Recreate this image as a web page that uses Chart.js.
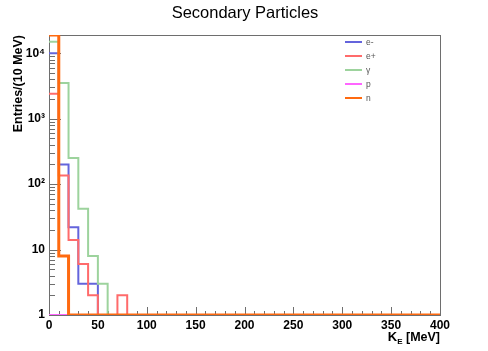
<!DOCTYPE html>
<html>
<head>
<meta charset="utf-8">
<script src="https://cdn.jsdelivr.net/npm/chart.js@4.4.0/dist/chart.umd.min.js"></script>
<style>
  html, body { margin:0; padding:0; background:#fff; }
  canvas { display:block; }
</style>
</head>
<body>
<canvas id="c" width="488" height="351"></canvas>
<script>
// ─── DATA ─────────────────────────────────────────────────────────────────────
// low edge of each 10 MeV bin that has entries; every later bin up to 400 MeV is empty
const binLows   = [0, 10, 20, 30, 40, 50, 60, 70, 80];
const xMax      = 400;
const countsEm  = [10000, 200, 22, 3, 3, 0, 0, 0, 0];   // e-
const countsEp  = [2400, 135, 14, 6, 2, 0, 0, 2, 0];    // e+
const countsGam = [15000, 3500, 250, 42, 8, 3, 0, 0, 0]; // gamma
const countsP   = [0, 0, 0, 0, 0, 0, 0, 0, 0];          // p
const countsN   = [19000, 8, 0, 0, 0, 0, 0, 0, 0];      // n
const seriesNames = ['e-', 'e+', 'γ', 'p', 'n'];
const xTicks    = [0, 50, 100, 150, 200, 250, 300, 350, 400];
const yTicks    = [1, 10, 100, 1000, 10000];
const yTickText = ['1', '10', '10²', '10³', '10⁴'];
const yMin = 1, yMax = 19000;

const COLORS = ['#6464dc', '#ff6b6b', '#9dd39d', '#ff66ff', '#ff6a10'];
const WIDTHS = [2, 2, 2, 2, 3];
const FONT = '"Liberation Sans", Arial, Helvetica, sans-serif';

// histogram as step line: point at bin low edge, drawn flat until next edge; empty bins sit on the floor
const toSteps = counts => {
  const pts = binLows.map((x, i) => ({ x, y: Math.max(counts[i], yMin) }));
  pts.push({ x: xMax, y: yMin });
  return pts;
};
const allCounts = [countsEm, countsEp, countsGam, countsP, countsN];

// ─── ROOT-like frame, inward ticks, titles, legend ────────────────────────────
const rootDeco = {
  id: 'rootDeco',
  beforeDatasetsDraw(chart) {
    const { ctx, chartArea: a, scales: { x, y } } = chart;
    ctx.save();
    ctx.strokeStyle = '#6e6e6e';
    ctx.lineWidth = 1;
    ctx.strokeRect(Math.round(a.left) + 0.5, Math.round(a.top) + 0.5,
                   Math.round(a.right - a.left), Math.round(a.bottom - a.top));
    ctx.beginPath();
    for (let v = 0; v <= xMax; v += 10) {
      const px = Math.round(x.getPixelForValue(v)) + 0.5;
      const len = v % 50 === 0 ? 8 : 4;
      ctx.moveTo(px, a.bottom); ctx.lineTo(px, a.bottom - len);
    }
    for (let d = 1; d <= 10000; d *= 10) {
      for (let m = 1; m <= 9; m++) {
        const v = d * m;
        if (v > yMax) break;
        const py = Math.round(y.getPixelForValue(v)) + 0.5;
        const len = m === 1 ? 12 : 6;
        ctx.moveTo(a.left, py); ctx.lineTo(a.left + len, py);
      }
    }
    ctx.stroke();
    ctx.restore();
  },
  afterDraw(chart) {
    const { ctx, chartArea: a } = chart;
    ctx.save();
    // title
    ctx.fillStyle = '#000';
    ctx.font = `16.5px ${FONT}`;
    ctx.textAlign = 'center'; ctx.textBaseline = 'alphabetic';
    ctx.fillText('Secondary Particles', 245, 17.5);
    // x title  K_E [MeV]
    ctx.font = `bold 12.5px ${FONT}`;
    ctx.textAlign = 'right';
    const rest = ' [MeV]';
    const wRest = ctx.measureText(rest).width;
    ctx.fillText(rest, a.right, 341);
    ctx.font = `bold 8px ${FONT}`;
    const wSub = ctx.measureText('E').width;
    ctx.fillText('E', a.right - wRest, 344);
    ctx.font = `bold 13px ${FONT}`;
    ctx.fillText('K', a.right - wRest - wSub, 341);
    // y title
    ctx.font = `bold 12.5px ${FONT}`;
    ctx.translate(22, a.top);
    ctx.rotate(-Math.PI / 2);
    ctx.textAlign = 'right';
    ctx.fillText('Entries/(10 MeV)', 0, 0);
    ctx.restore();
    // legend
    ctx.save();
    ctx.font = `8.5px ${FONT}`;
    ctx.textBaseline = 'middle'; ctx.textAlign = 'left';
    seriesNames.forEach((name, i) => {
      const ly = 42 + i * 14;
      ctx.strokeStyle = COLORS[i]; ctx.lineWidth = 2;
      ctx.beginPath(); ctx.moveTo(345, ly); ctx.lineTo(362, ly); ctx.stroke();
      ctx.fillStyle = '#555';
      ctx.fillText(name, 366, ly + 0.5);
    });
    ctx.restore();
  }
};

new Chart(document.getElementById('c'), {
  type: 'line',
  data: {
    datasets: seriesNames.map((name, i) => ({
      label: name,
      data: toSteps(allCounts[i]),
      stepped: 'before',
      borderColor: COLORS[i],
      borderWidth: WIDTHS[i],
      pointRadius: 0,
      fill: false,
      order: seriesNames.length - 1 - i
    }))
  },
  options: {
    responsive: false,
    animation: false,
    devicePixelRatio: 1,
    layout: { padding: { top: 35, right: 48, left: 0, bottom: 0 } },
    plugins: { legend: { display: false }, tooltip: { enabled: false }, title: { display: false } },
    scales: {
      x: {
        type: 'linear', min: 0, max: xMax,
        afterBuildTicks: s => { s.ticks = xTicks.map(v => ({ value: v })); },
        afterFit: s => { s.height = 36; },
        grid: { display: false, drawTicks: false },
        border: { display: false },
        ticks: { padding: 3, color: '#000', maxRotation: 0, autoSkip: false,
                 font: { family: FONT, size: 12, weight: 'bold' } }
      },
      y: {
        type: 'logarithmic', min: yMin, max: yMax,
        afterBuildTicks: s => { s.ticks = yTicks.map(v => ({ value: v })); },
        afterFit: s => { s.width = 49; },
        grid: { display: false, drawTicks: false },
        border: { display: false },
        ticks: { padding: 4, color: '#000', autoSkip: false,
                 callback: v => yTickText[yTicks.indexOf(v)] ?? '',
                 font: { family: FONT, size: 12, weight: 'bold' } }
      }
    }
  },
  plugins: [rootDeco]
});
</script>
</body>
</html>
